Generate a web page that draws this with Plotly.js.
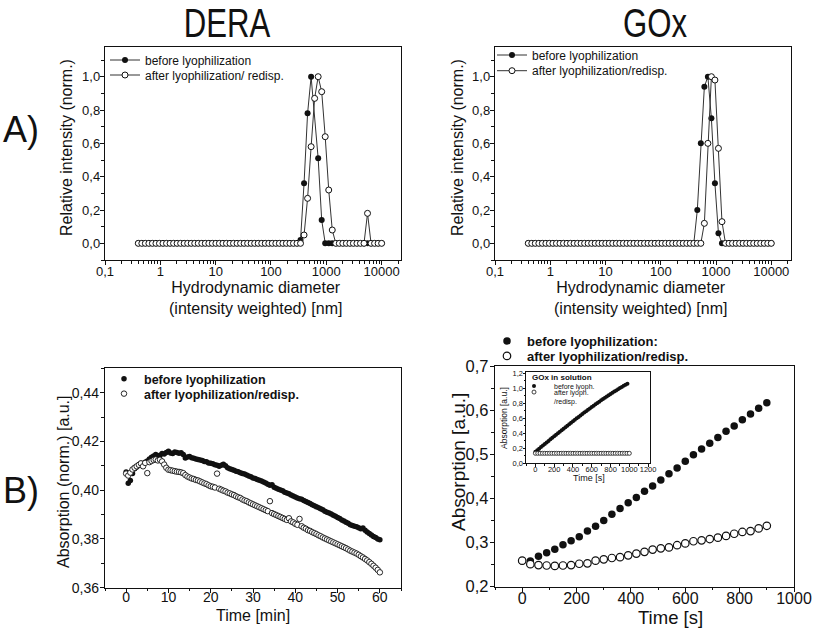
<!DOCTYPE html>
<html><head><meta charset="utf-8">
<script src="https://cdn.plot.ly/plotly-3.0.1.min.js"></script>
<style>html,body{margin:0;padding:0;background:#fff}#chart{width:813px;height:637px}</style>
</head><body><div id="chart"></div>
<script>
// ---------- DATA ----------
// DLS size classes (nm)
const dlsSizes = [0.4, 0.4632, 0.5365, 0.6213, 0.7195, 0.8332, 0.9649, 1.117, 1.294, 1.499,
  1.736, 2.01, 2.328, 2.696, 3.122, 3.615, 4.187, 4.849, 5.615, 6.503,
  7.531, 8.721, 10.1, 11.7, 13.54, 15.69, 18.17, 21.04, 24.36, 28.21,
  32.67, 37.84, 43.82, 50.75, 58.77, 68.06, 78.82, 91.28, 105.7, 122.4,
  141.8, 164.2, 190.1, 220.2, 255, 295.3, 342, 396.1, 458.7, 531.2,
  615.1, 712.4, 825, 955.4, 1106, 1281, 1484, 1718, 1990, 2305,
  2669, 3091, 3580, 4145, 4801, 5560, 6439, 7456, 8635, 10000];
const deraBefore = [0,0,0,0,0,0,0,0,0,0, 0,0,0,0,0,0,0,0,0,0, 0,0,0,0,0,0,0,0,0,0,
  0,0,0,0,0,0,0,0,0,0, 0,0,0,0,0,0,0.02,0.36,0.78,1.0,
  null,0.51,0.14,0,0,0,0,0,0,0, 0,0,0,0,0,0,0,0,0,0];
const deraAfter = [0,0,0,0,0,0,0,0,0,0, 0,0,0,0,0,0,0,0,0,0, 0,0,0,0,0,0,0,0,0,0,
  0,0,0,0,0,0,0,0,0,0, 0,0,0,0,0,0,0,0.05,0.27,0.58,
  0.87,1.0,0.91,0.64,0.32,0.08,0,0,0,0, 0,0,0,0,0,0.18,0,0,0,0];
const goxBefore = [0,0,0,0,0,0,0,0,0,0, 0,0,0,0,0,0,0,0,0,0, 0,0,0,0,0,0,0,0,0,0,
  0,0,0,0,0,0,0,0,0,0, 0,0,0,0,0,0,0,0,0.2,0.6,
  0.94,1.0,0.75,0.36,0.06,0,0,0,0,0, 0,0,0,0,0,0,0,0,0,0];
const goxAfter = [0,0,0,0,0,0,0,0,0,0, 0,0,0,0,0,0,0,0,0,0, 0,0,0,0,0,0,0,0,0,0,
  0,0,0,0,0,0,0,0,0,0, 0,0,0,0,0,0,0,0,0,0,
  0.12,0.6,1.0,0.98,0.57,0.13,0,0,0,0, 0,0,0,0,0,0,0,0,0,0];
const sizeTickVals = [0.1, 1, 10, 100, 1000, 10000];
const sizeTickText = ['0,1', '1', '10', '100', '1000', '10000'];

// DERA activity (time in min)
const deraTime = [0,0.5,1,1.5,2,2.5,3,3.5,4,4.5,5,5.5,6,6.5,7,7.5,8,8.5,9,9.5,
  10,10.5,11,11.5,12,12.5,13,13.5,14,14.5,15,15.5,16,16.5,17,17.5,18,18.5,19,19.5,
  20,20.5,21,21.5,22,22.5,23,23.5,24,24.5,25,25.5,26,26.5,27,27.5,28,28.5,29,29.5,
  30,30.5,31,31.5,32,32.5,33,33.5,34,34.5,35,35.5,36,36.5,37,37.5,38,38.5,39,39.5,
  40,40.5,41,41.5,42,42.5,43,43.5,44,44.5,45,45.5,46,46.5,47,47.5,48,48.5,49,49.5,
  50,50.5,51,51.5,52,52.5,53,53.5,54,54.5,55,55.5,56,56.5,57,57.5,58,58.5,59,59.5,60];
const deraActBefore = [0.4075,0.4028,0.4040,0.4068,0.4088,0.4095,0.4102,0.4110,0.4108,0.4115,
  0.4120,0.4128,0.4135,0.4140,0.4146,0.4140,0.4143,0.4150,0.4148,0.4155,
  0.4160,0.4153,0.4150,0.4157,0.4155,0.4152,0.4154,0.4146,0.4132,0.4136,
  0.4138,0.4133,0.4131,0.4128,0.4126,0.4124,0.4122,0.4118,0.4117,0.4112,
  0.4110,0.4108,0.4104,0.4102,0.4098,0.4102,0.4106,0.4100,0.4092,0.4088,
  0.4085,0.4082,0.4078,0.4076,0.4072,0.4068,0.4066,0.4062,0.4058,0.4055,
  0.4050,0.4048,0.4044,0.4041,0.4038,0.4034,0.4030,0.4024,0.4020,0.4022,
  0.4012,0.4008,0.4004,0.4001,0.3998,0.3992,0.3988,0.3985,0.3980,0.3976,
  0.3972,0.3968,0.3965,0.3963,0.3958,0.3954,0.3950,0.3945,0.3940,0.3936,
  0.3932,0.3928,0.3924,0.3920,0.3914,0.3910,0.3906,0.3902,0.3897,0.3893,
  0.3888,0.3884,0.3878,0.3874,0.3868,0.3864,0.3858,0.3855,0.3852,0.3850,
  0.3846,0.3842,0.3845,0.3836,0.3828,0.3822,0.3816,0.3810,0.3806,0.3800,0.3797];
const deraActAfter = [0.4068,0.4060,0.4072,0.4085,0.4092,0.4098,0.4104,0.4110,0.4098,0.4112,
  0.4070,0.4115,0.4120,0.4124,0.4126,0.4122,0.4125,0.4118,0.4105,0.4092,
  0.4084,0.4082,0.4080,0.4078,0.4076,0.4075,0.4073,0.4070,0.4062,0.4056,
  0.4052,0.4048,0.4046,0.4042,0.4040,0.4036,0.4032,0.4028,0.4025,0.4020,
  0.4016,0.4014,0.4011,0.4068,0.4006,0.4002,0.3998,0.3995,0.3990,0.3987,
  0.3983,0.3980,0.3975,0.3971,0.3968,0.3962,0.3958,0.3955,0.3950,0.3946,
  0.3942,0.3938,0.3934,0.3930,0.3926,0.3922,0.3918,0.3914,0.3955,0.3906,
  0.3902,0.3898,0.3894,0.3890,0.3886,0.3882,0.3878,0.3885,0.3872,0.3868,
  0.3862,0.3858,0.3882,0.3852,0.3846,0.3842,0.3836,0.3833,0.3828,0.3824,
  0.3820,0.3815,0.3811,0.3806,0.3802,0.3798,0.3794,0.3790,0.3786,0.3782,
  0.3778,0.3774,0.3770,0.3766,0.3762,0.3757,0.3752,0.3748,0.3744,0.3740,
  0.3735,0.3729,0.3724,0.3718,0.3712,0.3705,0.3698,0.3690,0.3682,0.3673,0.3663];

// GOx activity (time in s)
const goxTime = [0,30,60,90,120,150,180,210,240,270,300,330,360,390,420,450,480,510,540,570,
  600,630,660,690,720,750,780,810,840,870,900];
const goxActBefore = [0.258,0.258,0.269,0.277,0.285,0.295,0.304,0.313,0.326,0.337,0.350,0.364,
  0.377,0.390,0.402,0.416,0.428,0.442,0.456,0.469,0.484,0.499,0.512,0.525,0.538,0.552,0.564,
  0.578,0.591,0.604,0.617];
const goxActAfter = [0.259,0.251,0.249,0.248,0.247,0.248,0.249,0.252,0.253,0.259,0.262,0.265,
  0.267,0.271,0.275,0.279,0.284,0.287,0.289,0.294,0.298,0.303,0.305,0.308,0.311,0.315,0.320,
  0.324,0.326,0.332,0.338];

// Inset: GOx in solution
const insetTimeBefore = [0,20,40,60,80,100,120,140,160,180,200,220,240,260,280,300,320,340,360,380,
  400,420,440,460,480,500,520,540,560,580,600,620,640,660,680,700,720,740,760,780,
  800,820,840,860,880,900,920,940,960,980];
const insetBefore = [0.150,0.171,0.192,0.213,0.234,0.255,0.276,0.296,0.317,0.337,
  0.358,0.378,0.399,0.419,0.440,0.460,0.480,0.500,0.520,0.540,
  0.560,0.579,0.599,0.618,0.638,0.657,0.676,0.694,0.713,0.731,
  0.750,0.768,0.786,0.804,0.822,0.840,0.857,0.874,0.891,0.908,
  0.925,0.941,0.957,0.973,0.989,1.005,1.019,1.034,1.048,1.062];
const insetTimeAfter = [0,25,50,75,100,125,150,175,200,225,250,275,300,325,350,375,400,425,450,475,
  500,525,550,575,600,625,650,675,700,725,750,775,800,825,850,875,900,925,950,975,1000];
const insetAfter = [0.13,0.13,0.13,0.13,0.13,0.13,0.13,0.13,0.13,0.13,0.13,0.13,0.13,0.13,0.13,
  0.13,0.13,0.13,0.13,0.13,0.13,0.13,0.13,0.13,0.13,0.13,0.13,0.13,0.13,0.13,0.13,0.13,0.13,
  0.13,0.13,0.13,0.13,0.13,0.13,0.13,0.13];

// ---------- LAYOUT HELPERS ----------
const W = 813, H = 637;
const FONT = 'Arial, "Liberation Sans", sans-serif';
const px = v => v / W;
const py = v => 1 - v / H;
const INK = '#111';

function axis(opts) {
  return Object.assign({
    showline: true, mirror: true, linecolor: INK, linewidth: 1.2,
    ticks: 'outside', ticklen: 4, tickwidth: 1, tickcolor: INK,
    showgrid: false, zeroline: false, fixedrange: true, tickangle: 0,
    tickfont: {family: FONT, size: 13, color: INK}
  }, opts);
}

const filled = (size) => ({symbol: 'circle', size: size, color: INK, line: {width: 0}});
const open = (size, lw) => ({symbol: 'circle', size: size, color: '#fff', line: {color: INK, width: lw || 1}});

const traces = [
  {x: dlsSizes, y: deraBefore, xaxis: 'x', yaxis: 'y', mode: 'lines+markers', connectgaps: true,
   name: 'before lyophilization', legend: 'legend',
   line: {color: '#333', width: 1}, marker: filled(6)},
  {x: dlsSizes, y: deraAfter, xaxis: 'x', yaxis: 'y', mode: 'lines+markers',
   name: 'after lyophilization/ redisp.', legend: 'legend2',
   line: {color: '#333', width: 1}, marker: open(6)},
  {x: dlsSizes, y: goxBefore, xaxis: 'x2', yaxis: 'y2', mode: 'lines+markers',
   name: 'before lyophilization', legend: 'legend3',
   line: {color: '#333', width: 1}, marker: filled(6)},
  {x: dlsSizes, y: goxAfter, xaxis: 'x2', yaxis: 'y2', mode: 'lines+markers',
   name: 'after lyophilization/redisp.', legend: 'legend4',
   line: {color: '#333', width: 1}, marker: open(6)},
  {x: deraTime, y: deraActBefore, xaxis: 'x3', yaxis: 'y3', mode: 'markers',
   name: '<b>before lyophilization</b>', legend: 'legend5', marker: filled(5.5)},
  {x: deraTime, y: deraActAfter, xaxis: 'x3', yaxis: 'y3', mode: 'markers',
   name: '<b>after lyophilization/redisp.</b>', legend: 'legend6', marker: open(5.5, 0.9)},
  {x: goxTime, y: goxActBefore, xaxis: 'x4', yaxis: 'y4', mode: 'markers',
   name: '<b>before lyophilization:</b>', legend: 'legend7', marker: filled(7.5)},
  {x: goxTime, y: goxActAfter, xaxis: 'x4', yaxis: 'y4', mode: 'markers',
   name: '<b>after lyophilization/redisp.</b>', legend: 'legend8', marker: open(7.5, 1.2)},
  {x: insetTimeBefore, y: insetBefore, xaxis: 'x5', yaxis: 'y5', mode: 'markers',
   name: 'before lyoph.', legend: 'legend9', marker: filled(4)},
  {x: insetTimeAfter, y: insetAfter, xaxis: 'x5', yaxis: 'y5', mode: 'markers',
   name: 'after lyoph.<br>/redisp.', legend: 'legend10', marker: open(4, 0.8)}
];

function leg(x, y, size, extra) {
  return Object.assign({
    x: px(x), y: py(y), xanchor: 'left', yanchor: 'middle', visible: true,
    bgcolor: 'rgba(0,0,0,0)', borderwidth: 0,
    font: {family: FONT, size: size, color: INK}, itemclick: false, itemdoubleclick: false
  }, extra || {});
}

const layout = {
  width: W, height: H, margin: {l: 0, r: 0, t: 0, b: 0},
  paper_bgcolor: '#fff', plot_bgcolor: '#fff',
  separators: ',.', showlegend: true,
  font: {family: FONT, color: INK},
  xaxis: axis({type: 'log', range: [-1, 4.35], domain: [px(105), px(401)], anchor: 'y',
    tickmode: 'array', tickvals: sizeTickVals, ticktext: sizeTickText, ticklabelstandoff: -5,
    minor: {ticks: 'outside', ticklen: 2.5, tickcolor: INK, dtick: 'D1'}}),
  yaxis: axis({range: [-0.1, 1.18], domain: [py(260), py(46.7)], anchor: 'x', ticklabelstandoff: -3,
    dtick: 0.2, tick0: 0, tickformat: '.1f', minor: {ticks: 'outside', ticklen: 2.5, dtick: 0.1, tickcolor: INK}}),
  xaxis2: axis({type: 'log', range: [-1, 4.357], domain: [px(495), px(791)], anchor: 'y2',
    tickmode: 'array', tickvals: sizeTickVals, ticktext: sizeTickText, ticklabelstandoff: -5,
    minor: {ticks: 'outside', ticklen: 2.5, tickcolor: INK, dtick: 'D1'}}),
  yaxis2: axis({range: [-0.1, 1.18], domain: [py(260), py(46.7)], anchor: 'x2', ticklabelstandoff: -3,
    dtick: 0.2, tick0: 0, tickformat: '.1f', minor: {ticks: 'outside', ticklen: 2.5, dtick: 0.1, tickcolor: INK}}),
  xaxis3: axis({range: [-5, 65], domain: [px(105), px(401)], anchor: 'y3', dtick: 10, tick0: 0,
    tickfont: {family: FONT, size: 14, color: INK}, ticklabelstandoff: -8,
    minor: {ticks: 'outside', ticklen: 2.5, dtick: 5, tickcolor: INK}}),
  yaxis3: axis({range: [0.36, 0.45], domain: [py(587.7), py(368.3)], anchor: 'x3', dtick: 0.02, tick0: 0.36,
    tickformat: '.2f', tickfont: {family: FONT, size: 14, color: INK}, ticklabelstandoff: -2,
    minor: {ticks: 'outside', ticklen: 2.5, dtick: 0.01, tickcolor: INK}}),
  xaxis4: axis({range: [-100, 1000], domain: [px(495), px(794)], anchor: 'y4', dtick: 200, tick0: 0,
    tickfont: {family: FONT, size: 16, color: INK}, ticklabelstandoff: -7,
    minor: {ticks: 'outside', ticklen: 2.5, dtick: 100, tickcolor: INK}}),
  yaxis4: axis({range: [0.2, 0.7], domain: [py(586.7), py(366)], anchor: 'x4', dtick: 0.1, tick0: 0.2,
    tickformat: '.1f', tickfont: {family: FONT, size: 16.5, color: INK}, ticklabelstandoff: -2,
    minor: {ticks: 'outside', ticklen: 2.5, dtick: 0.05, tickcolor: INK}}),
  xaxis5: axis({range: [-100, 1220], domain: [px(526), px(650)], anchor: 'y5', dtick: 200, tick0: 0,
    ticklen: 2.5, linewidth: 1, tickfont: {family: FONT, size: 7.5, color: INK}, ticklabelstandoff: -4,
    minor: {ticks: 'outside', ticklen: 1.5, dtick: 100, tickcolor: INK}}),
  yaxis5: axis({range: [0, 1.22], domain: [py(463), py(372)], anchor: 'x5', dtick: 0.2, tick0: 0,
    ticklen: 2.5, linewidth: 1, tickformat: '.1f', tickfont: {family: FONT, size: 7.5, color: INK},
    ticklabelstandoff: -2, minor: {ticks: 'outside', ticklen: 1.5, dtick: 0.1, tickcolor: INK}}),
  legend: leg(105, 60, 12),
  legend2: leg(105, 75, 12),
  legend3: leg(492, 55, 12),
  legend4: leg(492, 70.7, 12),
  legend5: leg(104, 379, 12.5),
  legend6: leg(104, 394, 12.5),
  legend7: leg(487, 341, 13),
  legend8: leg(487, 356, 13),
  legend9: leg(514, 386, 7),
  legend10: leg(514, 397, 7, {valign: 'top'}),
  annotations: []
};

function ann(text, x, y, size, extra) {
  layout.annotations.push(Object.assign({
    text: text, x: px(x), y: py(y), xref: 'paper', yref: 'paper', showarrow: false,
    xanchor: 'center', yanchor: 'middle', font: {family: FONT, size: size, color: INK}
  }, extra || {}));
}

ann('DERA', 227, 23, 41);
ann('GOx', 655, 23, 41);
ann('A)', 21, 129, 36);
ann('B)', 21, 490, 36);
ann('Relative intensity (norm.)', 67, 148, 16, {textangle: -90});
ann('Hydrodynamic diameter<br>(intensity weighted) [nm]', 255, 298, 16);
ann('Relative intensity (norm.)', 458, 148, 16, {textangle: -90});
ann('Hydrodynamic diameter<br>(intensity weighted) [nm]', 640, 298, 16);
ann('Absorption (norm.) [a.u.]', 63, 482, 16, {textangle: -90});
ann('Time [min]', 253, 615, 16);
ann('Absorption [a.u.]', 458, 462, 19, {textangle: -90});
ann('Time [s]', 670, 617, 18.5);
ann('Absorption [a.u.]', 504, 418, 8.5, {textangle: -90});
ann('Time [s]', 589, 478, 9);
ann('<b>GOx in solution</b>', 530, 377, 8, {xanchor: 'left'});

Plotly.newPlot('chart', traces, layout, {staticPlot: true, displayModeBar: false}).then(() => {
  // the reference titles are set in a condensed face: squeeze them horizontally
  document.querySelectorAll('.annotation-text').forEach(t => {
    if (t.textContent === 'DERA' || t.textContent === 'GOx') {
      t.style.transformBox = 'fill-box';
      t.style.transformOrigin = 'center';
      t.style.transform = 'scaleX(0.76)';
    }
  });
  // the inset legend uses a very narrow face as well
  document.querySelectorAll('.legendtext').forEach(t => {
    if (t.textContent === 'before lyoph.' || t.textContent.indexOf('after lyoph.') === 0) {
      t.style.transformBox = 'fill-box';
      t.style.transformOrigin = 'left center';
      t.style.transform = 'scaleX(0.75)';
    }
  });
});
</script>
</body></html>
